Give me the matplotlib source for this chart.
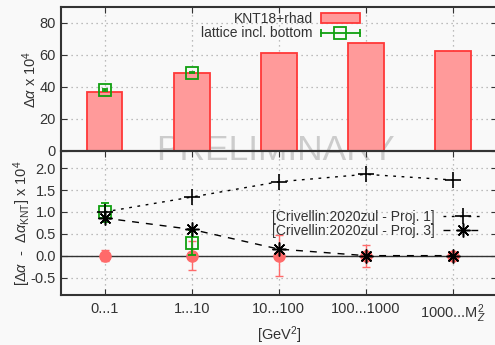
import matplotlib
matplotlib.use('Agg')
import matplotlib.pyplot as plt
from matplotlib.patches import Patch
from matplotlib.lines import Line2D
from matplotlib.legend_handler import HandlerLine2D, HandlerTuple

plt.rcParams['font.family'] = ['Liberation Sans', 'DejaVu Sans']
plt.rcParams['mathtext.fontset'] = 'custom'
plt.rcParams['mathtext.rm'] = 'Liberation Sans'
plt.rcParams['mathtext.it'] = 'Liberation Sans:italic'

# datos
categorias = ['0...1', '1...10', '10...100', '100...1000', r'1000...M$_Z^2$']
knt_rhad = [36.9, 48.7, 61.2, 67.3, 62.7]
lattice = [38.0, 48.9]
lattice_err = [0.6, 0.5]

diff_knt = [0.0, 0.0, 0.0, 0.0, 0.0]
diff_knt_err = [0.13, 0.33, 0.47, 0.25, 0.04]
diff_lattice = [0.99, 0.30]
diff_lattice_err = [0.22, 0.28]
proj1 = [1.00, 1.34, 1.69, 1.86, 1.73]
proj3 = [0.86, 0.60, 0.15, 0.0, 0.0]

x = list(range(len(categorias)))
rojo = '#ff3838'
relleno = '#ff9a9a'
verde = '#10a010'
gris_grid = '#a8a8a8'
texto = '#333333'

fig = plt.figure(figsize=(4.95, 3.45), dpi=100, facecolor='#f9f9f9')
ax1 = fig.add_axes([0.1232, 0.5632, 0.880, 0.4165], facecolor='none')
ax2 = fig.add_axes([0.1232, 0.1449, 0.880, 0.4183], facecolor='none')

for ax in (ax1, ax2):
    ax.set_xlim(-0.5, 4.5)
    ax.set_xticks(x)
    ax.grid(True, color=gris_grid, linestyle=(0, (1, 3)), linewidth=0.9)
    ax.set_axisbelow(True)
    ax.tick_params(direction='in', top=True, right=True, length=4,
                   labelsize=10.5, colors=texto, labelcolor=texto)
    for s in ax.spines.values():
        s.set_color(texto)
        s.set_linewidth(1.5)

# panel superior
ax1.set_ylim(0, 90)
ax1.set_yticks([0, 20, 40, 60, 80])
ax1.set_xticklabels([])
ax1.bar(x, knt_rhad, width=0.41, color=relleno, edgecolor=rojo, linewidth=1.3, zorder=2)
ax1.errorbar(x[:2], lattice, yerr=lattice_err, fmt='s', mfc='none', mec=verde,
             ecolor=verde, ms=8, mew=1.3, capsize=2, zorder=3)
ax1.axhline(0, color='#222222', linewidth=2, zorder=4)
ax1.set_ylabel(r'$\Delta\alpha$ x 10$^4$', fontsize=10.5, color=texto)
ax1.yaxis.set_label_coords(-0.050, 0.5)

# leyenda superior: caja roja y barra de error horizontal con cuadrado
h_knt = Patch(facecolor=relleno, edgecolor=rojo, linewidth=1.3)
h_barra = Line2D([], [], color=verde, linewidth=1.3, marker='|', ms=6, mew=1.3)
h_cuad = Line2D([], [], linestyle='none', marker='s', mfc='none', mec=verde, ms=8, mew=1.3)
leg1 = ax1.legend([h_knt, (h_barra, h_cuad)], ['KNT18+rhad', 'lattice incl. bottom'],
                  handler_map={h_barra: HandlerLine2D(numpoints=2, marker_pad=0.0),
                               h_cuad: HandlerLine2D(numpoints=1),
                               tuple: HandlerTuple(ndivide=1)},
                  loc='upper right', bbox_to_anchor=(0.705, 1.025), frameon=False,
                  markerfirst=False, fontsize=10, handlelength=2.8,
                  labelspacing=0.05, handletextpad=0.6, borderaxespad=0.2)
for t in leg1.get_texts():
    t.set_color(texto)

# panel inferior
ax2.set_ylim(-0.9, 2.4)
ax2.set_yticks([-0.5, 0.0, 0.5, 1.0, 1.5, 2.0])
ax2.set_yticklabels(['-0.5', '0.0', '0.5', '1.0', '1.5', '2.0'])
ax2.set_xticklabels(categorias)
ax2.tick_params(axis='x', pad=5)
ax2.axhline(0, color=texto, linewidth=1.0, zorder=1)
ax2.errorbar(x, diff_knt, yerr=diff_knt_err, fmt='o', color='#ff6a6a', ecolor='#ff6a6a',
             ms=8, capsize=3, elinewidth=1.0, zorder=3)
ax2.errorbar(x[:2], diff_lattice, yerr=diff_lattice_err, fmt='s', mfc='none', mec=verde,
             ecolor=verde, ms=8, mew=1.3, capsize=3, elinewidth=1.3, zorder=4)
ax2.plot(x, proj1, linestyle=(0, (2, 4)), color='black', linewidth=1.0,
         marker='+', ms=11, mew=1.2, zorder=5)
ax2.plot(x, proj3, linestyle=(0, (5, 5)), color='black', linewidth=1.0,
         marker=(8, 2, 0), ms=10, mew=1.1, zorder=5)
ax2.set_ylabel(r'[$\Delta\alpha$  -  $\Delta\alpha_{\rm KNT}$] x 10$^4$', fontsize=10.5,
               color=texto)
ax2.yaxis.set_label_coords(-0.065, 0.5)
ax2.set_xlabel(r'[GeV$^2$]', fontsize=10.5, color=texto)
ax2.xaxis.set_label_coords(0.5, -0.205)

h_p1 = Line2D([], [], linestyle=(0, (2, 4)), color='black', linewidth=1.0,
              marker='+', ms=11, mew=1.2)
h_p3 = Line2D([], [], linestyle=(0, (5, 5)), color='black', linewidth=1.0,
              marker=(8, 2, 0), ms=10, mew=1.1)
leg2 = ax2.legend([h_p1, h_p3], ['[Crivellin:2020zul - Proj. 1]', '[Crivellin:2020zul - Proj. 3]'],
                  loc='upper right', bbox_to_anchor=(0.986, 0.645), frameon=False,
                  markerfirst=False, fontsize=10, handlelength=2.8,
                  labelspacing=0.0, handletextpad=0.6, borderaxespad=0.2)
for t in leg2.get_texts():
    t.set_color(texto)

fig.text(0.556, 0.565, 'PRELIMINARY', fontsize=25.5, color='#cccccc',
         ha='center', va='center', zorder=-1)

fig.savefig('out.png', dpi=100, facecolor=fig.get_facecolor())
